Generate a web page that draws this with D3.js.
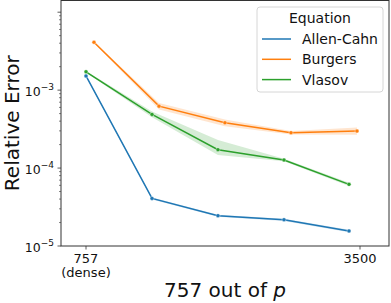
<!DOCTYPE html>
<html>
<head>
<meta charset="utf-8">
<script src="https://cdn.jsdelivr.net/npm/d3@7"></script>
<style>
  body { margin: 0; background: #fff; }
  svg { font-family: "DejaVu Sans", sans-serif; }
</style>
</head>
<body>
<div id="chart"></div>
<script>
// Series
const equations = ["Allen-Cahn", "Burgers", "Vlasov"];
const colors = ["#1f77b4", "#ff7f0e", "#2ca02c"];

const xAllen = [757, 1418, 2078, 2739, 3390];
const xBurgers = [837, 1488, 2148, 2809, 3470];
const xVlasov = [757, 1418, 2078, 2739, 3390];

const allen = [1.52e-3, 4.08e-5, 2.45e-5, 2.17e-5, 1.56e-5];
const allenLo = [1.48e-3, 3.95e-5, 2.38e-5, 2.10e-5, 1.50e-5];
const allenHi = [1.56e-3, 4.20e-5, 2.52e-5, 2.24e-5, 1.62e-5];

const burgers = [4.12e-3, 6.23e-4, 3.81e-4, 2.84e-4, 2.98e-4];
const burgersLo = [4.02e-3, 5.65e-4, 3.45e-4, 2.70e-4, 2.67e-4];
const burgersHi = [4.22e-3, 6.85e-4, 4.20e-4, 2.98e-4, 3.32e-4];

const vlasov = [1.72e-3, 4.88e-4, 1.72e-4, 1.27e-4, 6.18e-5];
const vlasovLo = [1.68e-3, 4.50e-4, 1.47e-4, 1.22e-4, 5.90e-5];
const vlasovHi = [1.76e-3, 5.30e-4, 2.29e-4, 1.32e-4, 6.50e-5];

const xTicks = [757, 3500];
const xTickLabels = [["757", "(dense)"], ["3500"]];
const yMajor = [1e-5, 1e-4, 1e-3];
const yMajorExp = ["−5", "−4", "−3"];

const series = [
  {name: equations[0], x: xAllen, y: allen, lo: allenLo, hi: allenHi, color: colors[0]},
  {name: equations[1], x: xBurgers, y: burgers, lo: burgersLo, hi: burgersHi, color: colors[1]},
  {name: equations[2], x: xVlasov, y: vlasov, lo: vlasovLo, hi: vlasovHi, color: colors[2]}
];

const W = 391, H = 303;
const margin = {left: 61, top: 0.5, right: 2, bottom: 57};
const width = W - margin.left - margin.right;
const height = 246 - margin.top;

const svg = d3.select("#chart").append("svg")
  .attr("width", W).attr("height", H);
const g = svg.append("g")
  .attr("transform", "translate(" + margin.left + "," + margin.top + ")");

// Scales
const x = d3.scaleLinear().domain([757, 3500]).range([25, 299]);
const y = d3.scaleLog().domain([1e-5, Math.pow(10, -1.85)]).range([height, 0]);

// bands, lines, markers
const area = d3.area()
  .x(d => x(d.x)).y0(d => y(d.lo)).y1(d => y(d.hi));
const line = d3.line()
  .x(d => x(d.x)).y(d => y(d.y));

series.forEach(s => {
  const pts = s.x.map((v, i) => ({x: v, y: s.y[i], lo: s.lo[i], hi: s.hi[i]}));
  g.append("path").attr("d", area(pts))
    .attr("fill", s.color).attr("fill-opacity", 0.2).attr("stroke", "none");
  g.append("path").attr("d", line(pts))
    .attr("fill", "none").attr("stroke", s.color).attr("stroke-width", 1.5);
  g.selectAll(null).data(pts).enter().append("circle")
    .attr("cx", d => x(d.x)).attr("cy", d => y(d.y)).attr("r", 2)
    .attr("fill", s.color).attr("stroke", "#fff").attr("stroke-width", 0.4);
});

// spines
g.append("rect").attr("x", 0).attr("y", 0).attr("width", width).attr("height", height)
  .attr("fill", "none").attr("stroke", "#333").attr("stroke-width", 1);

// x ticks
xTicks.forEach((t, i) => {
  g.append("line").attr("x1", x(t)).attr("x2", x(t)).attr("y1", height).attr("y2", height + 3.5)
    .attr("stroke", "#333").attr("stroke-width", 0.8);
  const txt = g.append("text").attr("x", x(t)).attr("y", height + 16.5)
    .attr("text-anchor", "middle").attr("font-size", 13).attr("fill", "#111");
  xTickLabels[i].forEach((l, j) => {
    txt.append("tspan").attr("x", x(t)).attr("dy", j === 0 ? 0 : 14.5).text(l);
  });
});

// y ticks (log, with minor)
const [d0, d1] = y.domain();
for (let e = -5; e <= -2; e++) {
  for (let m = 1; m <= 9; m++) {
    const v = m * Math.pow(10, e);
    if (v < d0 || v > d1) continue;
    const major = m === 1;
    g.append("line").attr("x1", 0).attr("x2", major ? -3.5 : -2)
      .attr("y1", y(v)).attr("y2", y(v))
      .attr("stroke", "#333").attr("stroke-width", major ? 0.8 : 0.6);
  }
}
yMajor.forEach((v, i) => {
  const t = g.append("text").attr("x", -7).attr("y", y(v) + 5.5)
    .attr("text-anchor", "end").attr("font-size", 12.5).attr("fill", "#111");
  t.append("tspan").text("10");
  t.append("tspan").attr("font-size", 9).attr("dy", -5.5).text(yMajorExp[i]);
});

// axis labels
svg.append("text").attr("x", margin.left + width / 2).attr("y", 297)
  .attr("text-anchor", "middle").attr("font-size", 20).attr("fill", "#111")
  .html('757 out of <tspan font-style="italic">p</tspan>');
svg.append("text")
  .attr("transform", "translate(18.5," + (margin.top + height / 2) + ") rotate(-90)")
  .attr("text-anchor", "middle").attr("font-size", 20).attr("fill", "#111")
  .text("Relative Error");

// legend
const lg = svg.append("g").attr("transform", "translate(257,7)");
lg.append("rect").attr("width", 126).attr("height", 85).attr("rx", 3)
  .attr("fill", "#fff").attr("fill-opacity", 0.8).attr("stroke", "#ccc").attr("stroke-width", 0.8);
lg.append("text").attr("x", 63).attr("y", 16).attr("text-anchor", "middle")
  .attr("font-size", 14).attr("fill", "#111").text("Equation");
series.forEach((s, i) => {
  const yy = 32 + i * 20.3;
  lg.append("line").attr("x1", 5).attr("x2", 34).attr("y1", yy).attr("y2", yy)
    .attr("stroke", s.color).attr("stroke-width", 1.5);
  lg.append("text").attr("x", 45).attr("y", yy + 5).attr("font-size", 14)
    .attr("fill", "#111").text(s.name);
});
</script>
</body>
</html>
